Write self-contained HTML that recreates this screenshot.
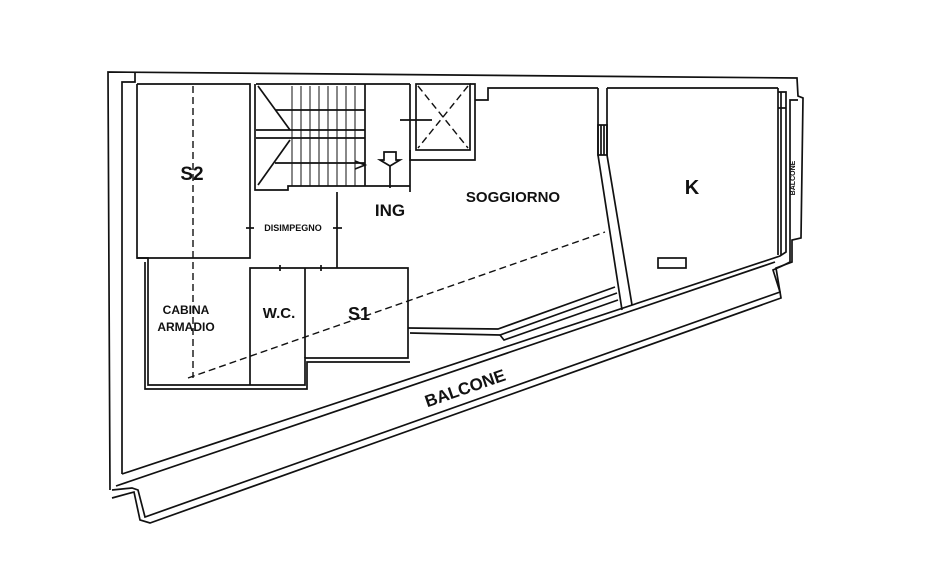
<!DOCTYPE html>
<html><head><meta charset="utf-8"><style>
html,body{margin:0;padding:0;background:#fff;}
svg{display:block}
text{font-family:"Liberation Sans",sans-serif;font-weight:bold;fill:#111}
</style></head><body>
<svg width="925" height="579" viewBox="0 0 925 579" xmlns="http://www.w3.org/2000/svg">
<g fill="none" stroke="#111" stroke-width="1.7">
<polyline points="110,490 108,72 797,78 798,96 803,98 801,238 792,240 792,262 776,268 781,298 150,523 140,520 134,492 112,498"/>
<polyline points="122,474 122,82 135,82 135,72"/>
<polyline points="122,474 780,256 786,252 786,92 778,92"/>
<polyline points="112,490 132,488 138,490 145,517 780,292 773,270 782,266 790,262 790,100 798,100"/>
<polyline points="116,486 775,262"/>
<polyline points="137,84 250,84 250,258 137,258 137,84"/>
<line x1="256" y1="84" x2="410" y2="84"/>
<line x1="410" y1="84" x2="410" y2="192"/>
<polyline points="255,84 255,190 288,190 288,186 410,186"/>
<rect x="416" y="84" width="54" height="66"/>
<polyline points="410,150 410,160 475,160 475,84 470,84"/>
<polyline points="475,100 488,100 488,88 598,88"/>
<line x1="290" y1="138" x2="365" y2="138"/>
<line x1="290" y1="130" x2="365" y2="130"/>
<line x1="256" y1="130" x2="290" y2="130"/>
<line x1="256" y1="138" x2="290" y2="138"/>
<line x1="275" y1="110" x2="365" y2="110"/>
<line x1="275" y1="163" x2="365" y2="163"/>
<line x1="258" y1="86" x2="290" y2="130"/>
<line x1="258" y1="185" x2="290" y2="140"/>
<line x1="365" y1="84" x2="365" y2="186"/>
<g stroke-width="1">
<line x1="292" y1="86" x2="292" y2="186"/><line x1="301" y1="86" x2="301" y2="186"/>
<line x1="310" y1="86" x2="310" y2="186"/><line x1="319" y1="86" x2="319" y2="186"/>
<line x1="328" y1="86" x2="328" y2="186"/><line x1="337" y1="86" x2="337" y2="186"/>
<line x1="346" y1="86" x2="346" y2="186"/><line x1="355" y1="86" x2="355" y2="186"/>
</g>
<polyline points="355,161 365,165 355,169"/>
<polygon points="384,152 396,152 396,160 400,160 390,166 380,160 384,160" fill="#fff"/>
<line x1="390" y1="166" x2="390" y2="188"/>
<line x1="400" y1="120" x2="432" y2="120"/>
<g stroke-dasharray="7,4" stroke-width="1.4">
<line x1="418" y1="86" x2="468" y2="148"/><line x1="468" y1="86" x2="418" y2="148"/>
<line x1="193" y1="86" x2="193" y2="378"/>
<polyline points="188,378 605,232"/>
</g>
<line x1="337" y1="192" x2="337" y2="268"/>
<line x1="246" y1="228" x2="254" y2="228"/><line x1="333" y1="228" x2="342" y2="228"/>
<polyline points="137,258 148,258 148,385 305,385 305,358 408,358 408,268 250,268 250,385"/>
<polyline points="145,262 145,389 307,389 307,362 410,362"/>
<line x1="305" y1="268" x2="305" y2="358"/>
<line x1="280" y1="265" x2="280" y2="271"/><line x1="321" y1="265" x2="321" y2="271"/>
<polyline points="408,328 498,329 615,287"/>
<polyline points="410,333 500,335 617,293"/>
<polyline points="500,335 504,340 618,300"/>
<polyline points="598,88 598,155 622,310"/>
<polyline points="607,88 607,155 632,305"/>
<rect x="598" y="125" width="9" height="30"/>
<line x1="601" y1="125" x2="601" y2="155"/><line x1="604" y1="125" x2="604" y2="155"/>
<line x1="607" y1="88" x2="778" y2="88"/>
<line x1="778" y1="88" x2="778" y2="255"/>
<line x1="781" y1="92" x2="781" y2="255"/>
<line x1="778" y1="108" x2="786" y2="108"/>
<rect x="658" y="258" width="28" height="10"/>
</g>
<text x="192" y="180" font-size="19" text-anchor="middle">S2</text>
<text x="390" y="216" font-size="17" text-anchor="middle">ING</text>
<text x="513" y="202" font-size="15" text-anchor="middle">SOGGIORNO</text>
<text x="692" y="194" font-size="20" text-anchor="middle">K</text>
<text x="293" y="231" font-size="9" text-anchor="middle">DISIMPEGNO</text>
<text x="186" y="314" font-size="12" text-anchor="middle">CABINA</text>
<text x="186" y="331" font-size="12" text-anchor="middle">ARMADIO</text>
<text x="279" y="318" font-size="15" text-anchor="middle">W.C.</text>
<text x="359" y="320" font-size="18" text-anchor="middle">S1</text>
<text x="465" y="394" font-size="17" text-anchor="middle" transform="rotate(-19 465 388)">BALCONE</text>
<text x="795" y="178" font-size="7" text-anchor="middle" transform="rotate(-90 795 178)">BALCONE</text>
</svg>
</body></html>
